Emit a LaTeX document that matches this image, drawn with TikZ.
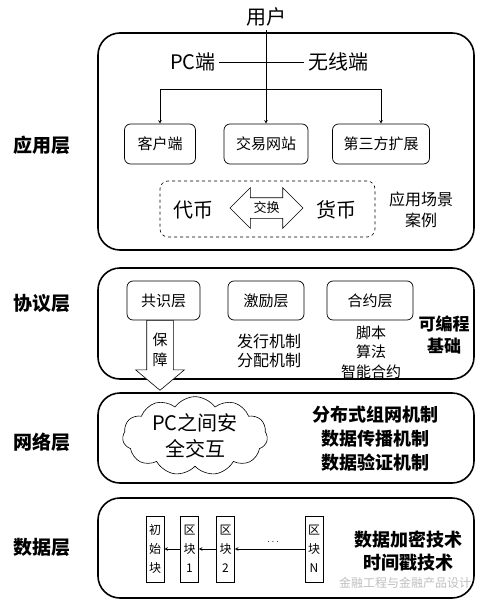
\documentclass[tikz,border=0pt]{standalone}
\usepackage{fontspec}
\setmainfont{Noto Sans CJK SC}
\usepackage{tikz}
\usetikzlibrary{arrows,shapes,positioning}
\usepackage{xcolor}
\definecolor{markgray}{RGB}{190,190,190}
\tikzstyle{arrow} = [->,>=stealth,line width=0.6pt]
\tikzstyle{layer} = [rectangle, rounded corners=22pt, draw, line width=1.6pt, minimum width=376pt]
\tikzstyle{unit} = [rectangle, rounded corners=6pt, draw, line width=0.7pt, minimum height=40pt, font=\fontsize{15}{15}\selectfont]
\tikzstyle{tag} = [font=\fontsize{19}{19}\selectfont\bfseries]
\tikzstyle{note} = [align=center, font=\fontsize{16}{20}\selectfont]
\tikzstyle{block} = [rectangle, draw, line width=0.7pt, minimum width=18pt, minimum height=66pt, inner sep=0pt, align=center, font=\fontsize{12}{19}\selectfont]

\begin{document}
\begin{tikzpicture}[x=1pt, y=-1pt]
\useasboundingbox (0,0) rectangle (501,604);
% Layers
\node (app) [layer, minimum height=217pt] at (286,141.5) {};
\node (proto) [layer, minimum height=111pt] at (286,323.5) {};
\node (net) [layer, minimum height=90pt] at (286,438) {};
\node (data) [layer, minimum height=100pt] at (286,548) {};
\node (tagapp) [tag] at (42,145) {应用层};
\node (tagproto) [tag] at (42,303) {协议层};
\node (tagnet) [tag] at (42,442) {网络层};
\node (tagdata) [tag] at (42,547) {数据层};

% Application layer
\node (user) [font=\fontsize{20}{20}\selectfont] at (266,17) {用户};
\node (pc) [font=\fontsize{20}{20}\selectfont] at (193,62) {PC端};
\node (wireless) [font=\fontsize{20}{20}\selectfont] at (338,62) {无线端};
\draw[line width=0.6pt] (pc) -- (wireless);
\node (client) [unit, minimum width=71pt] at (160,144) {客户端};
\node (site) [unit, minimum width=84pt] at (266,144) {交易网站};
\node (ext) [unit, minimum width=97pt] at (381,144) {第三方扩展};
\coordinate (fork) at (266,89);
\draw[arrow] (user) -- (site);
\draw[arrow] (fork) -| (client);
\draw[arrow] (fork) -| (ext);

\node (scene) [rectangle, rounded corners=8pt, draw, dashed, line width=0.6pt, minimum width=215pt, minimum height=56pt] at (267.5,209) {};
\node (token) [font=\fontsize{20}{20}\selectfont] at (193,210) {代币};
\node (swap) [double arrow, draw, line width=0.6pt, double arrow tip angle=90, double arrow head extend=10pt, minimum height=73pt, minimum width=40pt, inner xsep=2pt, inner ysep=4pt, text height=10pt, text depth=2pt, font=\fontsize{13}{13}\selectfont] at (266.5,208) {交换};
\node (money) [font=\fontsize{20}{20}\selectfont] at (336,210) {货币};
\node (case) [note, font=\fontsize{16}{21}\selectfont] at (421,210) {应用场景\\案例};

% Protocol layer
\node (consensus) [unit, minimum width=73pt, minimum height=39pt] at (163.5,300.5) {共识层};
\node (incent) [unit, minimum width=76pt, minimum height=39pt] at (266,300.5) {激励层};
\node (contract) [unit, minimum width=86pt, minimum height=39pt] at (370,300.5) {合约层};
\node (issue) [note, font=\fontsize{16}{19}\selectfont] at (269,351) {发行机制\\分配机制};
\node (script) [note, font=\fontsize{15}{19.5}\selectfont] at (371,352) {脚本\\算法\\智能合约};
\node (prog) [note, font=\fontsize{17}{22}\selectfont\bfseries] at (444,335) {可编程\\基础};
\node (guard) [single arrow, draw, fill=white, line width=0.6pt, rotate=-90, anchor=tail, minimum height=70pt, minimum width=48pt, single arrow head extend=11pt, single arrow tip angle=100, inner xsep=0pt, inner ysep=13pt] at (160,320) {};
\node (guardtxt) [note, font=\fontsize{15}{20}\selectfont] at (160,350) {保\\障};

% Network layer
\node (cloud) [cloud, draw, line width=0.6pt, cloud puffs=11, cloud puff arc=110, aspect=1.9, minimum width=145pt, minimum height=78pt, inner sep=0pt, align=center, font=\fontsize{20}{26}\selectfont] at (195,436) {PC之间安\\全交互};
\node (netmech) [note, font=\fontsize{18}{24}\selectfont\bfseries] at (375,439) {分布式组网机制\\数据传播机制\\数据验证机制};

% Data layer
\node (genesis) [block] at (155,549) {初\\始\\块};
\node (b1) [block] at (189.5,549) {区\\块\\1};
\node (b2) [block] at (225.5,549) {区\\块\\2};
\node (bn) [block] at (314,549) {区\\块\\N};
\draw[arrow] (b1) -- (genesis);
\draw[arrow] (b2) -- (b1);
\draw[arrow] (bn) -- (b2);
\node (dots) at (273,542) {$\cdots$};
\node (datatech) [note, font=\fontsize{18}{23}\selectfont\bfseries] at (408,551) {数据加密技术\\时间戳技术};
\node (mark) [font=\fontsize{12}{12}\selectfont, text=markgray] at (405,583) {金融工程与金融产品设计};
\end{tikzpicture}
\end{document}
